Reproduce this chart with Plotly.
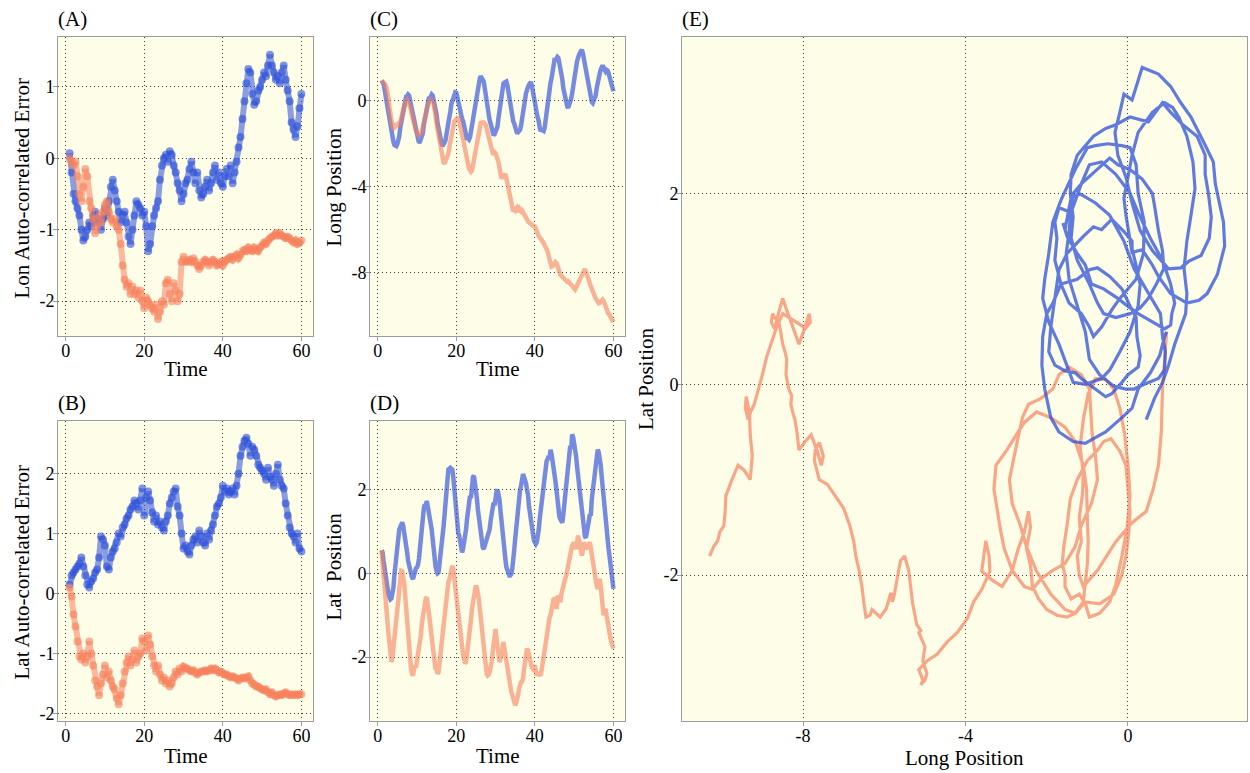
import plotly.graph_objects as go

# ---------------- data ----------------
# panels A/B: time step 0.5 (t = 1 ... 60); panels C/D/E: time step 0.25
TIME = [1 + 0.5 * i for i in range(119)]
TIME_FINE = [1 + 0.25 * i for i in range(237)]

# (A) longitudinal auto-correlated error
A_BLUE = [0.07, -0.2, -0.5, -0.6, -0.7, -0.8, -1.0, -1.15, -1.1, -1.0,
          -0.9, -0.95, -0.8, -0.75, -0.9, -0.85, -1.0, -0.85, -0.7, -0.8,
          -0.6, -0.4, -0.3, -0.45, -0.6, -0.75, -0.9, -0.8, -0.75, -0.9,
          -1.1, -1.2, -1.0, -0.8, -0.6, -0.65, -0.7, -0.8, -0.75, -0.95,
          -1.3, -1.2, -0.95, -0.8, -0.7, -0.6, -0.3, -0.1, 0.0, 0.05,
          -0.05, 0.1, 0.05, -0.1, -0.2, -0.35, -0.45, -0.6, -0.5, -0.35,
          -0.3, -0.15, -0.05, -0.2, -0.35, -0.2, -0.45, -0.55, -0.5, -0.4,
          -0.3, -0.45, -0.35, -0.2, -0.1, -0.3, -0.2, -0.35, -0.4, -0.25,
          -0.15, -0.25, -0.1, -0.35, -0.2, -0.05, 0.15, 0.3, 0.55, 0.8,
          1.05, 1.25, 1.2, 0.9, 0.75, 0.8, 0.95, 1.0, 1.1, 1.2,
          1.15, 1.3, 1.45, 1.3, 1.2, 1.1, 1.15, 1.05, 1.2, 1.3,
          1.1, 0.95, 0.8, 0.5, 0.4, 0.3, 0.45, 0.7, 0.9]
A_ORANGE = [0.0, -0.05, -0.1, -0.05, -0.25, -0.5, -0.6, -0.4, -0.15, -0.25,
            -0.6, -0.7, -0.85, -1.05, -0.95, -0.8, -0.9, -0.75, -0.65, -0.6,
            -0.75, -0.85, -0.9, -0.85, -0.95, -1.0, -1.2, -1.5, -1.7, -1.8,
            -1.75, -1.9, -1.8, -1.9, -1.85, -1.95, -1.85, -2.0, -2.1, -1.95,
            -2.0, -2.05, -2.1, -2.15, -2.05, -2.25, -2.15, -2.0, -2.05, -1.75,
            -1.7, -1.9, -2.0, -1.75, -1.85, -2.0, -1.9, -1.45, -1.38, -1.45,
            -1.45, -1.42, -1.45, -1.4, -1.45, -1.5, -1.55, -1.5, -1.45, -1.42,
            -1.45, -1.5, -1.45, -1.42, -1.45, -1.5, -1.48, -1.45, -1.5, -1.45,
            -1.42, -1.4, -1.38, -1.42, -1.38, -1.35, -1.4, -1.35, -1.3, -1.28,
            -1.3, -1.25, -1.28, -1.3, -1.25, -1.28, -1.3, -1.25, -1.22, -1.18,
            -1.2, -1.15, -1.12, -1.1, -1.08, -1.05, -1.08, -1.05, -1.08, -1.1,
            -1.12, -1.1, -1.12, -1.15, -1.18, -1.15, -1.2, -1.18, -1.15]

# (B) lateral auto-correlated error
B_BLUE = [0.15, 0.3, 0.35, 0.4, 0.45, 0.5, 0.6, 0.45, 0.3, 0.15,
          0.1, 0.2, 0.25, 0.35, 0.4, 0.6, 0.95, 0.9, 0.8, 0.45,
          0.4, 0.6, 0.7, 0.75, 0.85, 1.0, 0.95, 1.1, 1.15, 1.25,
          1.3, 1.4, 1.45, 1.55, 1.5, 1.4, 1.55, 1.75, 1.3, 1.6,
          1.7, 1.55, 1.35, 1.2, 1.3, 1.15, 1.2, 1.1, 1.05, 1.2,
          1.3, 1.5, 1.6, 1.7, 1.75, 1.45, 1.3, 1.0, 0.75, 0.8,
          0.7, 0.65, 0.8, 0.9, 0.95, 0.85, 1.05, 0.95, 0.85, 0.8,
          1.0, 0.9, 1.05, 1.15, 1.3, 1.45, 1.5, 1.6, 1.8, 1.7,
          1.75, 1.65, 1.7, 1.75, 1.65, 1.8, 2.0, 2.3, 2.45, 2.55,
          2.6, 2.5, 2.3, 2.45, 2.4, 2.3, 2.15, 2.1, 2.05, 2.0,
          1.9, 2.1, 1.95, 1.9, 1.8, 2.0, 2.15, 1.9, 1.8, 1.75,
          1.5, 1.3, 1.1, 1.0, 0.95, 0.85, 1.0, 0.75, 0.7]
B_ORANGE = [0.1, -0.05, -0.35, -0.55, -0.8, -1.05, -1.1, -1.0, -1.15, -1.05,
            -0.8, -1.0, -1.2, -1.45, -1.55, -1.7, -1.5, -1.35, -1.2, -1.4,
            -1.3, -1.45, -1.55, -1.6, -1.75, -1.85, -1.7, -1.5, -1.3, -1.15,
            -1.05, -1.2, -1.1, -0.95, -1.15, -1.05, -1.0, -0.75, -0.8, -0.95,
            -0.7, -0.85, -1.05, -1.2, -1.3, -1.2, -1.35, -1.45, -1.4, -1.5,
            -1.45, -1.55, -1.5, -1.4, -1.3, -1.35, -1.25, -1.3, -1.22, -1.25,
            -1.25, -1.28, -1.3, -1.28, -1.32, -1.35, -1.32, -1.3, -1.3, -1.28,
            -1.3, -1.28, -1.25, -1.28, -1.25, -1.28, -1.32, -1.3, -1.33, -1.35,
            -1.35, -1.38, -1.4, -1.38, -1.4, -1.42, -1.45, -1.42, -1.4, -1.42,
            -1.4, -1.38, -1.45, -1.5, -1.52, -1.55, -1.55, -1.58, -1.6, -1.62,
            -1.6, -1.65, -1.68, -1.65, -1.7, -1.72, -1.7, -1.68, -1.7, -1.67,
            -1.65, -1.68, -1.7, -1.68, -1.7, -1.68, -1.7, -1.68, -1.68]

# (C) longitudinal position (rows of 5 time units)
C_BLUE = [0.95, 0.9, 0.78, 0.55, 0.25, 0.1, -0.15, -0.55, -0.85, -1.05, -1.35, -1.7, -1.9, -2.05, -2.12, -2.1, -2.0, -1.85, -1.65, -1.25,
          -0.95, -0.75, -0.45, -0.15, 0.05, 0.2, 0.22, 0.3, 0.25, 0.0, -0.15, -0.4, -0.55, -0.9, -1.15, -1.3, -1.55, -1.8, -1.95, -1.9,
          -1.8, -1.7, -1.5, -1.1, -0.85, -0.65, -0.4, -0.1, 0.1, 0.1, 0.22, 0.3, 0.25, 0.05, -0.2, -0.45, -0.65, -1.05, -1.35, -1.5,
          -1.7, -1.95, -2.1, -2.05, -1.95, -1.85, -1.65, -1.3, -1.0, -0.8, -0.5, -0.15, 0.05, 0.2, 0.25, 0.4, 0.38, 0.2, -0.05, -0.2,
          -0.4, -0.65, -0.85, -0.95, -1.15, -1.45, -1.65, -1.8, -1.75, -1.8, -1.7, -1.4, -1.15, -0.95, -0.65, -0.3, 0.05, 0.25, 0.55, 0.85,
          1.05, 1.15, 1.08, 1.05, 0.9, 0.6, 0.25, 0.05, -0.25, -0.6, -0.9, -1.05, -1.25, -1.5, -1.6, -1.55, -1.45, -1.4, -1.2, -0.8,
          -0.45, -0.1, 0.15, 0.5, 0.8, 0.85, 0.92, 0.9, 0.75, 0.4, 0.15, -0.05, -0.35, -0.7, -0.95, -1.05, -1.25, -1.45, -1.52, -1.45,
          -1.4, -1.35, -1.15, -0.75, -0.45, -0.25, 0.05, 0.35, 0.6, 0.65, 0.75, 0.85, 0.88, 0.7, 0.5, 0.3, 0.05, -0.3, -0.6, -0.75,
          -0.95, -1.25, -1.4, -1.35, -1.42, -1.4, -1.25, -0.85, -0.55, -0.3, 0.05, 0.5, 0.85, 1.05, 1.35, 1.7, 1.9, 1.9, 1.98, 2.05,
          2.0, 1.8, 1.5, 1.3, 1.0, 0.6, 0.3, 0.1, -0.05, -0.25, -0.32, -0.2, -0.1, 0.1, 0.35, 0.75, 1.05, 1.3, 1.55, 1.85,
          2.1, 2.15, 2.25, 2.35, 2.38, 2.2, 1.95, 1.75, 1.45, 1.05, 0.75, 0.6, 0.35, 0.1, -0.05, -0.1, 0.0, 0.1, 0.25, 0.6,
          0.9, 1.1, 1.25, 1.45, 1.6, 1.65, 1.55, 1.45, 1.38, 1.45, 1.42, 1.3, 1.15, 1.0, 0.85, 0.65, 0.45]
C_ORANGE = [0.95, 0.9, 0.85, 0.82, 0.75, 0.62, 0.45, 0.1, -0.3, -0.75, -1.1, -1.2, -1.25, -1.15, -1.2, -1.12, -1.1, -1.18, -1.1, -0.98,
            -0.8, -0.55, -0.35, -0.2, -0.08, 0.0, 0.05, -0.02, -0.15, -0.3, -0.45, -0.7, -0.95, -1.05, -1.2, -1.4, -1.55, -1.55, -1.62, -1.58,
            -1.5, -1.42, -1.25, -1.0, -0.75, -0.6, -0.42, -0.2, -0.05, 0.0, 0.05, 0.02, -0.05, -0.15, -0.35, -0.7, -1.05, -1.3, -1.55, -1.9,
            -2.25, -2.5, -2.65, -2.85, -2.92, -2.8, -2.7, -2.6, -2.45, -2.15, -1.85, -1.7, -1.45, -1.15, -0.95, -0.92, -0.88, -0.8, -0.75, -0.9,
            -1.15, -1.3, -1.55, -1.85, -2.15, -2.35, -2.55, -2.85, -3.05, -3.15, -3.22, -3.3, -3.25, -3.0, -2.75, -2.55, -2.25, -1.9, -1.55, -1.3,
            -1.1, -1.02, -1.0, -0.98, -1.0, -1.05, -1.1, -1.3, -1.5, -1.75, -2.0, -2.2, -2.35, -2.4, -2.5, -2.4, -2.45, -2.55, -2.7, -2.85,
            -3.1, -3.35, -3.6, -3.55, -3.5, -3.42, -3.4, -3.6, -3.8, -3.95, -4.2, -4.45, -4.7, -4.95, -5.15, -5.05, -5.1, -5.0, -4.95, -5.05,
            -5.0, -5.1, -5.15, -5.1, -5.2, -5.3, -5.35, -5.4, -5.5, -5.6, -5.65, -5.7, -5.75, -5.78, -5.8, -5.82, -5.85, -5.95, -6.1, -6.2,
            -6.3, -6.35, -6.45, -6.5, -6.55, -6.62, -6.7, -6.75, -6.85, -7.0, -7.2, -7.4, -7.6, -7.72, -7.7, -7.6, -7.6, -7.5, -7.55, -7.65,
            -7.8, -7.95, -8.1, -8.15, -8.2, -8.25, -8.3, -8.28, -8.35, -8.42, -8.4, -8.45, -8.5, -8.55, -8.6, -8.7, -8.75, -8.78, -8.7, -8.62,
            -8.5, -8.42, -8.3, -8.2, -8.1, -7.95, -7.85, -7.82, -7.95, -8.05, -8.2, -8.35, -8.5, -8.65, -8.8, -8.9, -9.0, -9.1, -9.2, -9.3,
            -9.35, -9.42, -9.4, -9.32, -9.3, -9.25, -9.3, -9.45, -9.6, -9.75, -9.9, -9.92, -9.95, -10.05, -10.1, -10.2, -10.3]

# (D) lateral position (rows of 5 time units)
D_BLUE = [0.55, 0.5, 0.3, 0.12, -0.05, -0.25, -0.35, -0.5, -0.57, -0.62, -0.6, -0.5, -0.35, -0.05, 0.2, 0.5, 0.74, 0.85, 1.05, 1.1,
          1.2, 1.22, 1.13, 1.0, 0.82, 0.7, 0.5, 0.3, 0.18, 0.1, 0.02, -0.1, -0.13, -0.02, 0.06, 0.12, 0.14, 0.2, 0.34, 0.6,
          0.9, 1.2, 1.37, 1.55, 1.65, 1.62, 1.73, 1.6, 1.5, 1.42, 1.21, 1.05, 0.82, 0.55, 0.34, 0.15, 0.06, 0.0, 0.02, 0.2,
          0.42, 0.65, 0.9, 1.1, 1.37, 1.7, 1.93, 2.25, 2.48, 2.5, 2.52, 2.5, 2.48, 2.3, 2.0, 1.7, 1.37, 1.1, 0.98, 0.9,
          0.78, 0.6, 0.5, 0.6, 0.74, 0.85, 1.05, 1.3, 1.53, 1.7, 1.85, 1.8, 2.1, 2.3, 2.33, 2.2, 2.0, 1.8, 1.53, 1.3,
          1.05, 0.85, 0.74, 0.62, 0.58, 0.65, 0.74, 0.8, 0.9, 1.0, 1.05, 1.25, 1.37, 1.55, 1.69, 1.62, 1.85, 1.95, 2.0, 1.9,
          1.77, 1.5, 1.21, 0.95, 0.74, 0.5, 0.34, 0.15, 0.06, 0.0, -0.05, -0.05, -0.02, 0.1, 0.26, 0.55, 0.82, 1.1, 1.37, 1.6,
          1.85, 2.0, 2.1, 2.25, 2.37, 2.3, 2.25, 2.15, 2.0, 1.88, 1.61, 1.4, 1.21, 1.05, 0.9, 0.8, 0.74, 0.7, 0.74, 0.85,
          1.05, 1.3, 1.53, 1.75, 2.0, 2.2, 2.4, 2.6, 2.68, 2.72, 2.8, 2.75, 2.95, 2.85, 2.72, 2.6, 2.4, 2.2, 2.0, 1.75,
          1.53, 1.35, 1.29, 1.22, 1.21, 1.4, 1.61, 1.9, 2.17, 2.4, 2.64, 2.85, 3.04, 2.98, 3.32, 3.25, 3.12, 2.95, 2.8, 2.55,
          2.33, 2.1, 1.9, 1.7, 1.45, 1.15, 0.95, 0.88, 0.85, 0.95, 1.13, 1.25, 1.41, 1.38, 1.77, 1.95, 2.17, 2.4, 2.64, 2.85,
          2.95, 2.9, 2.8, 2.6, 2.33, 2.05, 1.77, 1.5, 1.21, 0.95, 0.74, 0.6, 0.42, 0.2, 0.02, -0.15, -0.37]
D_ORANGE = [0.55, 0.25, -0.05, -0.5, -0.85, -1.1, -1.33, -1.45, -1.65, -1.95, -2.12, -2.0, -1.8, -1.65, -1.4, -1.15, -0.93, -0.65, -0.37, -0.1,
            0.06, 0.05, -0.05, -0.25, -0.53, -0.85, -1.17, -1.5, -1.8, -2.1, -2.28, -2.4, -2.44, -2.3, -2.2, -2.25, -2.12, -2.0, -1.88, -1.7,
            -1.48, -1.2, -1.0, -0.8, -0.69, -0.6, -0.57, -0.7, -0.85, -1.1, -1.33, -1.55, -1.8, -2.0, -2.2, -2.3, -2.28, -2.4, -2.36, -2.2,
            -1.96, -1.7, -1.48, -1.25, -1.0, -0.75, -0.53, -0.35, -0.21, -0.15, -0.05, 0.1, 0.18, 0.1, -0.05, -0.3, -0.53, -0.75, -1.0, -1.25,
            -1.48, -1.7, -1.88, -1.95, -2.04, -2.15, -2.12, -1.95, -1.72, -1.5, -1.33, -1.1, -0.85, -0.7, -0.53, -0.4, -0.29, -0.35, -0.45, -0.6,
            -0.85, -1.1, -1.4, -1.65, -1.88, -2.1, -2.28, -2.4, -2.44, -2.42, -2.36, -2.25, -2.12, -1.9, -1.72, -1.5, -1.33, -1.55, -1.72, -1.95,
            -2.12, -2.05, -1.96, -1.8, -1.64, -1.8, -1.96, -2.15, -2.28, -2.45, -2.6, -2.7, -2.83, -2.9, -2.99, -3.1, -3.15, -3.1, -3.03, -2.9,
            -2.75, -2.65, -2.6, -2.58, -2.52, -2.3, -2.12, -1.95, -1.8, -1.85, -1.96, -2.1, -2.2, -2.25, -2.28, -2.2, -2.2, -2.35, -2.44, -2.4,
            -2.36, -2.42, -2.44, -2.3, -2.12, -1.95, -1.8, -1.65, -1.48, -1.3, -1.17, -1.05, -1.0, -0.8, -0.69, -0.62, -0.61, -0.75, -0.85, -0.7,
            -0.53, -0.6, -0.69, -0.5, -0.37, -0.3, -0.21, -0.12, -0.05, 0.1, 0.26, 0.35, 0.42, 0.55, 0.66, 0.7, 0.74, 0.65, 0.58, 0.72,
            0.9, 0.8, 0.66, 0.55, 0.42, 0.6, 0.74, 0.65, 0.58, 0.62, 0.66, 0.7, 0.74, 0.6, 0.42, 0.28, 0.1, -0.05, -0.21, -0.3,
            -0.37, -0.25, -0.13, -0.3, -0.53, -0.75, -1.0, -0.9, -0.85, -1.0, -1.17, -1.35, -1.48, -1.55, -1.64, -1.7, -1.8]

TIME_TICKS = [0, 20, 40, 60]
A_TICKS = [-2, -1, 0, 1]
B_TICKS = [-2, -1, 0, 1, 2]
C_TICKS = [-8, -4, 0]
D_TICKS = [-2, 0, 2]
E_X_TICKS = [-8, -4, 0]
E_Y_TICKS = [-2, 0, 2]

# ---------------- styling ----------------
W, H = 1250, 773
FONT = "Liberation Serif"
BLUE = (44, 78, 218)
ORANGE = (247, 128, 92)
BG = "#FEFDE8"


def rgba(c, a):
    return f"rgba({c[0]},{c[1]},{c[2]},{a})"


def px_x(p):
    return p / W


def px_y(p):
    return 1 - p / H


fig = go.Figure()


def add_points(y, ax, color):
    fig.add_trace(go.Scatter(
        x=TIME[:len(y)], y=y, mode="lines+markers", xaxis="x" + ax, yaxis="y" + ax,
        line=dict(color=rgba(color, 0.55), width=6),
        marker=dict(color=rgba(color, 0.6), size=8, line=dict(width=0)),
        showlegend=False, hoverinfo="skip"))


def add_line(x, y, ax, color, width, alpha):
    n = min(len(x), len(y))
    fig.add_trace(go.Scatter(
        x=x[:n], y=y[:n], mode="lines", xaxis="x" + ax, yaxis="y" + ax,
        line=dict(color=rgba(color, alpha), width=width),
        showlegend=False, hoverinfo="skip"))


add_points(A_BLUE, "", BLUE)
add_points(A_ORANGE, "", ORANGE)
add_points(B_BLUE, "2", BLUE)
add_points(B_ORANGE, "2", ORANGE)
add_line(TIME_FINE, C_BLUE, "3", BLUE, 4.5, 0.65)
add_line(TIME_FINE, C_ORANGE, "3", ORANGE, 4.5, 0.6)
add_line(TIME_FINE, D_BLUE, "4", BLUE, 4.5, 0.65)
add_line(TIME_FINE, D_ORANGE, "4", ORANGE, 4.5, 0.6)
add_line(C_ORANGE, D_ORANGE, "5", ORANGE, 3.2, 0.7)
add_line(C_BLUE, D_BLUE, "5", BLUE, 3.2, 0.75)


def axis(domain, rng, ticks, anchor, standoff):
    return dict(
        domain=domain, range=rng, anchor=anchor,
        tickmode="array", tickvals=ticks, ticktext=[str(t) for t in ticks],
        showline=True, mirror=True, linecolor="#9c9c9c", linewidth=1,
        ticks="outside", ticklen=4, tickcolor="#9c9c9c", tickwidth=1,
        ticklabelstandoff=standoff,
        showgrid=True, gridcolor="#3a3a3a", gridwidth=1, griddash="1px,3px",
        zeroline=False,
        tickfont=dict(family=FONT, size=18, color="black"),
    )


XL_LEFT = [px_x(58), px_x(313)]
XL_MID = [px_x(370), px_x(625)]
XL_E = [px_x(682), px_x(1247)]
Y_TOP = [px_y(337), px_y(37)]
Y_BOT = [px_y(723), px_y(422)]
Y_ALL = [px_y(723), px_y(37)]
T_RANGE = [-1.95, 62.95]

fig.update_layout(
    width=W, height=H, autosize=False,
    margin=dict(l=0, r=0, t=0, b=0),
    paper_bgcolor="white", plot_bgcolor=BG,
    font=dict(family=FONT, color="black"),
    xaxis=axis(XL_LEFT, T_RANGE, TIME_TICKS, "y", -6),
    yaxis=axis(Y_TOP, [-2.49, 1.70], A_TICKS, "x", -5),
    xaxis2=axis(XL_LEFT, T_RANGE, TIME_TICKS, "y2", -6),
    yaxis2=axis(Y_BOT, [-2.13, 2.88], B_TICKS, "x2", -5),
    xaxis3=axis(XL_MID, T_RANGE, TIME_TICKS, "y3", -6),
    yaxis3=axis(Y_TOP, [-10.95, 2.98], C_TICKS, "x3", -5),
    xaxis4=axis(XL_MID, T_RANGE, TIME_TICKS, "y4", -6),
    yaxis4=axis(Y_BOT, [-3.53, 3.64], D_TICKS, "x4", -5),
    xaxis5=axis(XL_E, [-10.98, 2.93], E_X_TICKS, "y5", -6),
    yaxis5=axis(Y_ALL, [-3.53, 3.64], E_Y_TICKS, "x5", -5),
)

ann = []


def label(text, xp, yp, size=21, angle=0, xanchor="center"):
    ann.append(dict(text=text, x=px_x(xp), y=px_y(yp), xref="paper", yref="paper",
                    showarrow=False, textangle=angle, xanchor=xanchor, yanchor="middle",
                    font=dict(family=FONT, size=size, color="black")))


# panel tags
label("(A)", 56, 19, xanchor="left")
label("(B)", 56, 404, xanchor="left")
label("(C)", 368, 19, xanchor="left")
label("(D)", 368, 404, xanchor="left")
label("(E)", 680, 19, xanchor="left")
# x titles
label("Time", 185.5, 370)
label("Time", 185.5, 758)
label("Time", 497.5, 370)
label("Time", 497.5, 758)
label("Long Position", 964.5, 760)
# y titles
label("Lon Auto-correlated Error", 22, 189, angle=-90)
label("Lat Auto-correlated Error", 22, 574, angle=-90)
label("Long Position", 334, 188, angle=-90)
label("Lat\u00a0\u00a0Position", 334, 568, angle=-90)
label("Lat Position", 646, 380, angle=-90)

fig.update_layout(annotations=ann)

fig.write_html(
    "out.html",
    config={"displayModeBar": False},
    post_script="document.body.style.margin='0px';document.body.style.padding='0px';",
)
